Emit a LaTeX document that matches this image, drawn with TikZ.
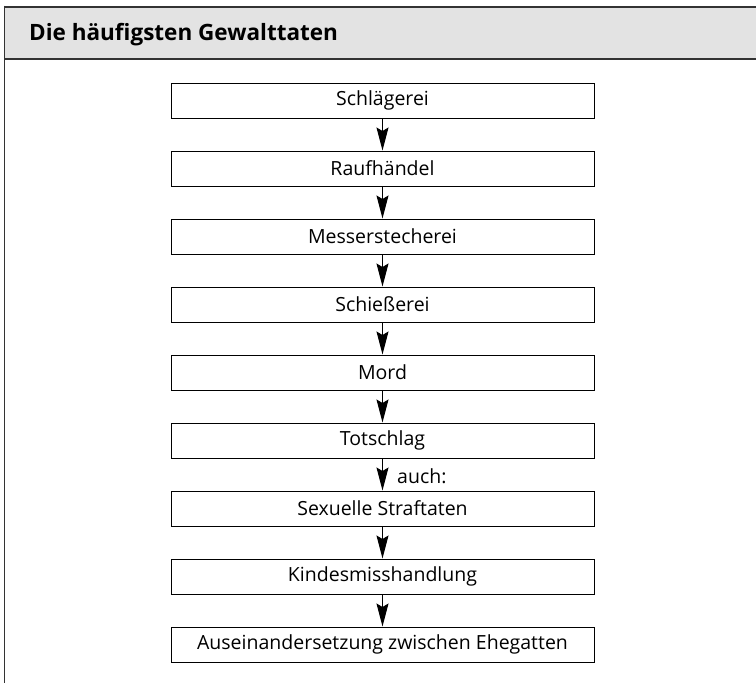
\documentclass[tikz,border=0pt]{standalone}
\usepackage{fontspec}
\setmainfont{Open Sans}
\usetikzlibrary{arrows.meta,positioning}
\definecolor{hdrgray}{HTML}{E3E3E3}
\definecolor{linegray}{HTML}{333333}
\begin{document}
\begin{tikzpicture}[x=1pt,y=-1pt,
  stepbox/.style={draw=black,line width=1pt,minimum width=423pt,minimum height=35pt,inner sep=0pt,font=\fontsize{19.5}{22}\selectfont},
  flow/.style={draw=black,line width=1pt,-{Stealth[length=23pt,width=12pt,inset=3.5pt]}},
  hdr/.style={font=\fontsize{22.5}{26}\selectfont\bfseries,anchor=base west,inner sep=0pt}]
\useasboundingbox (0,0) rectangle (756,683);
\fill[hdrgray] (4.5,6.5) rectangle (756,59);
\draw[linegray,line width=2pt] (4.5,6.5) -- (756,6.5);
\draw[linegray,line width=2pt] (4.5,59) -- (756,59);
\draw[linegray,line width=1.5pt] (4.5,5.5) -- (4.5,683);
\node[hdr] (title) at (29,40) {Die häufigsten Gewalttaten};
\node[stepbox] (b0) at (382.5,100.5) {Schlägerei};
\node[stepbox] (b1) at (382.5,168.5) {Raufhändel};
\node[stepbox] (b2) at (382.5,236.5) {Messerstecherei};
\node[stepbox] (b3) at (382.5,304.5) {Schießerei};
\node[stepbox] (b4) at (382.5,372.5) {Mord};
\node[stepbox] (b5) at (382.5,440.5) {Totschlag};
\node[stepbox] (b6) at (382.5,508.5) {Sexuelle Straftaten};
\node[stepbox] (b7) at (382.5,576.5) {Kindesmisshandlung};
\node[stepbox] (b8) at (382.5,644.5) {Auseinandersetzung zwischen Ehegatten};
\foreach \a/\b in {b0/b1,b1/b2,b2/b3,b3/b4,b4/b5,b5/b6,b6/b7,b7/b8}
  \draw[flow] (\a.south) -- (\b.north);
\node[font=\fontsize{19.5}{22}\selectfont,anchor=base west,inner sep=0pt] (auch) at (397,483) {auch:};
\end{tikzpicture}
\end{document}
